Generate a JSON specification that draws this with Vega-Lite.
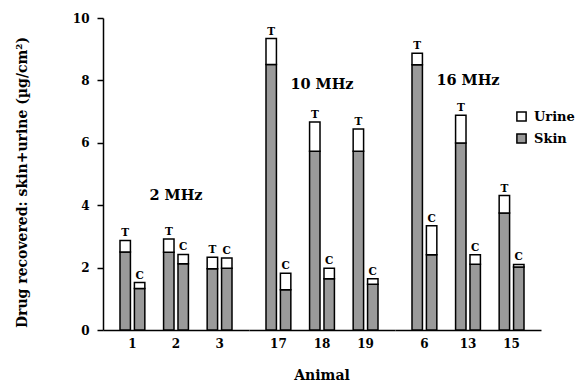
{
  "$schema": "https://vega.github.io/schema/vega-lite/v6.json",
  "padding": {"left": 15, "top": 12, "right": 5, "bottom": 5},
  "background": "white",
  "data": {"values": [
    {"freq": "2 MHz", "animal": "1", "cond": "T", "part": "Skin", "value": 2.50},
    {"freq": "2 MHz", "animal": "1", "cond": "T", "part": "Urine", "value": 0.37},
    {"freq": "2 MHz", "animal": "1", "cond": "C", "part": "Skin", "value": 1.33},
    {"freq": "2 MHz", "animal": "1", "cond": "C", "part": "Urine", "value": 0.19},
    {"freq": "2 MHz", "animal": "2", "cond": "T", "part": "Skin", "value": 2.49},
    {"freq": "2 MHz", "animal": "2", "cond": "T", "part": "Urine", "value": 0.43},
    {"freq": "2 MHz", "animal": "2", "cond": "C", "part": "Skin", "value": 2.12},
    {"freq": "2 MHz", "animal": "2", "cond": "C", "part": "Urine", "value": 0.30},
    {"freq": "2 MHz", "animal": "3", "cond": "T", "part": "Skin", "value": 1.96},
    {"freq": "2 MHz", "animal": "3", "cond": "T", "part": "Urine", "value": 0.37},
    {"freq": "2 MHz", "animal": "3", "cond": "C", "part": "Skin", "value": 1.98},
    {"freq": "2 MHz", "animal": "3", "cond": "C", "part": "Urine", "value": 0.33},
    {"freq": "10 MHz", "animal": "17", "cond": "T", "part": "Skin", "value": 8.51},
    {"freq": "10 MHz", "animal": "17", "cond": "T", "part": "Urine", "value": 0.83},
    {"freq": "10 MHz", "animal": "17", "cond": "C", "part": "Skin", "value": 1.29},
    {"freq": "10 MHz", "animal": "17", "cond": "C", "part": "Urine", "value": 0.53},
    {"freq": "10 MHz", "animal": "18", "cond": "T", "part": "Skin", "value": 5.73},
    {"freq": "10 MHz", "animal": "18", "cond": "T", "part": "Urine", "value": 0.94},
    {"freq": "10 MHz", "animal": "18", "cond": "C", "part": "Skin", "value": 1.64},
    {"freq": "10 MHz", "animal": "18", "cond": "C", "part": "Urine", "value": 0.34},
    {"freq": "10 MHz", "animal": "19", "cond": "T", "part": "Skin", "value": 5.73},
    {"freq": "10 MHz", "animal": "19", "cond": "T", "part": "Urine", "value": 0.71},
    {"freq": "10 MHz", "animal": "19", "cond": "C", "part": "Skin", "value": 1.47},
    {"freq": "10 MHz", "animal": "19", "cond": "C", "part": "Urine", "value": 0.17},
    {"freq": "16 MHz", "animal": "6", "cond": "T", "part": "Skin", "value": 8.50},
    {"freq": "16 MHz", "animal": "6", "cond": "T", "part": "Urine", "value": 0.37},
    {"freq": "16 MHz", "animal": "6", "cond": "C", "part": "Skin", "value": 2.41},
    {"freq": "16 MHz", "animal": "6", "cond": "C", "part": "Urine", "value": 0.93},
    {"freq": "16 MHz", "animal": "13", "cond": "T", "part": "Skin", "value": 5.99},
    {"freq": "16 MHz", "animal": "13", "cond": "T", "part": "Urine", "value": 0.89},
    {"freq": "16 MHz", "animal": "13", "cond": "C", "part": "Skin", "value": 2.11},
    {"freq": "16 MHz", "animal": "13", "cond": "C", "part": "Urine", "value": 0.30},
    {"freq": "16 MHz", "animal": "15", "cond": "T", "part": "Skin", "value": 3.75},
    {"freq": "16 MHz", "animal": "15", "cond": "T", "part": "Urine", "value": 0.56},
    {"freq": "16 MHz", "animal": "15", "cond": "C", "part": "Skin", "value": 2.02},
    {"freq": "16 MHz", "animal": "15", "cond": "C", "part": "Urine", "value": 0.08},
    {"freq": "2 MHz", "animal": "2", "label": "2 MHz", "ly": 4.3},
    {"freq": "10 MHz", "animal": "18", "label": "10 MHz", "ly": 7.86},
    {"freq": "16 MHz", "animal": "13", "label": "16 MHz", "ly": 7.99}
  ]},
  "facet": {
    "column": {
      "field": "freq", "type": "nominal",
      "sort": ["2 MHz", "10 MHz", "16 MHz"],
      "title": "Animal",
      "header": {"labels": false, "titleOrient": "bottom", "titleFont": "DejaVu Serif", "titleFontWeight": "bold", "titleFontSize": 14, "titleColor": "black", "titlePadding": 10}
    }
  },
  "spacing": 0,
  "spec": {
    "width": 146,
    "height": 312,
    "layer": [
      {
        "transform": [{"filter": "datum.value != null"}],
        "mark": {"type": "bar", "stroke": "black", "strokeWidth": 1.5},
        "encoding": {
          "x": {"field": "animal", "type": "nominal", "sort": null,
                "scale": {"paddingInner": 0.43, "paddingOuter": 0.39},
                "axis": {"title": null, "labelAngle": 0, "ticks": false, "labelPadding": 8}},
          "xOffset": {"field": "cond", "type": "nominal", "sort": ["T", "C"],
                      "scale": {"paddingInner": 0.276, "paddingOuter": 0}},
          "y": {"field": "value", "type": "quantitative", "stack": "zero",
                "scale": {"domain": [0, 10], "nice": false},
                "axis": {"title": "Drug recovered: skin+urine (µg/cm²)", "values": [0, 2, 4, 6, 8, 10], "tickSize": 6, "labelPadding": 8, "titlePadding": 43, "titleY": 164}},
          "color": {"field": "part", "type": "nominal",
                    "scale": {"domain": ["Urine", "Skin"], "range": ["white", "#9a9a9a"]},
                    "legend": {"title": null, "orient": "none", "legendX": 412, "legendY": 92, "symbolType": "square", "symbolSize": 85, "symbolStrokeColor": "black", "symbolStrokeWidth": 1.5, "labelFont": "DejaVu Serif", "labelFontWeight": "bold", "labelFontSize": 13, "labelColor": "black", "labelOffset": 6, "rowPadding": 5}},
          "order": {"field": "part", "sort": "ascending"}
        }
      },
      {
        "transform": [{"filter": "datum.value != null"}],
        "mark": {"type": "text", "baseline": "bottom", "dy": -2, "font": "DejaVu Serif", "fontWeight": "bold", "fontSize": 10.5, "color": "black"},
        "encoding": {
          "x": {"field": "animal", "type": "nominal", "sort": null},
          "xOffset": {"field": "cond", "type": "nominal", "sort": ["T", "C"]},
          "y": {"aggregate": "sum", "field": "value", "type": "quantitative"},
          "text": {"field": "cond", "type": "nominal"}
        }
      },
      {
        "transform": [{"filter": "datum.label != null"}],
        "mark": {"type": "text", "font": "DejaVu Serif", "fontWeight": "bold", "fontSize": 14.5, "color": "black"},
        "encoding": {
          "x": {"field": "animal", "type": "nominal", "sort": null},
          "y": {"field": "ly", "type": "quantitative"},
          "text": {"field": "label", "type": "nominal"}
        }
      }
    ]
  },
  "resolve": {"scale": {"x": "independent", "xOffset": "independent"}},
  "config": {
    "view": {"stroke": null},
    "axis": {"grid": false, "domainColor": "black", "domainWidth": 1.5, "tickColor": "black", "tickWidth": 1.5,
             "labelColor": "black", "labelFont": "DejaVu Serif", "labelFontWeight": "bold", "labelFontSize": 12,
             "titleColor": "black", "titleFont": "DejaVu Serif", "titleFontWeight": "bold", "titleFontSize": 14}
  }
}
